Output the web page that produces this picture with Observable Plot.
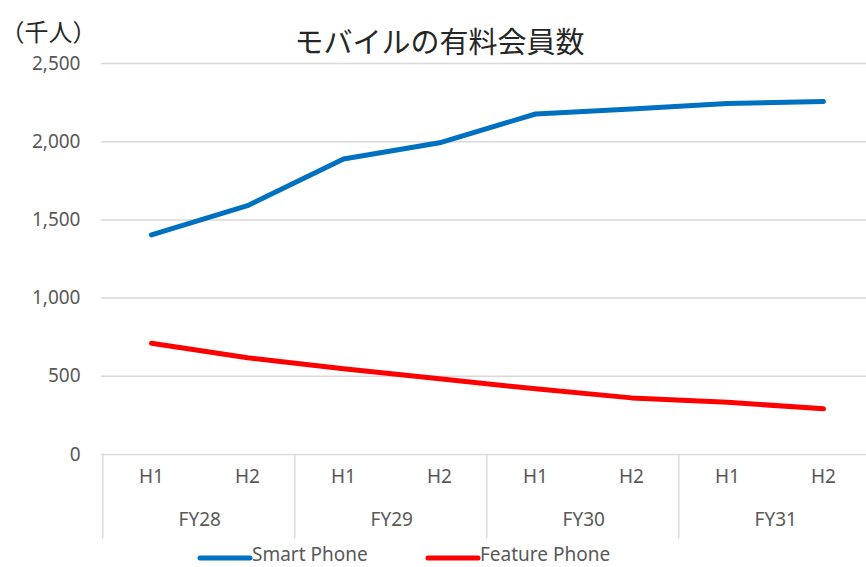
<!DOCTYPE html>
<html><head><meta charset="utf-8">
<script src="https://cdn.jsdelivr.net/npm/d3@7"></script>
<script src="https://cdn.jsdelivr.net/npm/@observablehq/plot@0.6"></script>
<style>html,body{margin:0;padding:0;overflow:hidden;background:#fff}svg{display:block}</style>
</head><body><div id="chart"></div>
<script>
const fiscalYears = ["FY28", "FY29", "FY30", "FY31"];
const halves = ["H1", "H2"];
const seriesNames = ["Smart Phone", "Feature Phone"];
const seriesColors = ["#0070c0", "#ff0000"];
const smartPhone = [1404, 1591, 1889, 1993, 2177, 2209, 2244, 2257];
const featurePhone = [711, 618, 548, 484, 420, 362, 334, 292];
const yTicks = [0, 500, 1000, 1500, 2000, 2500];
const titleText = "モバイルの有料会員数";
const unitText = "（千人）";

const categories = fiscalYears.flatMap(fy => halves.map(h => fy + "|" + h));
const rows = [
  ...categories.map((c, i) => ({cat: c, series: seriesNames[0], value: smartPhone[i]})),
  ...categories.map((c, i) => ({cat: c, series: seriesNames[1], value: featurePhone[i]}))
];

const W = 866, H = 567, mL = 101, mR = -7, mT = 63, mB = 113;
const step = (W - mL - mR) / categories.length;
const gridColor = "#d9d9d9";
const labelColor = "#595959";
const labelSize = 19;
const font = "'Noto Sans', 'Noto Sans CJK JP', sans-serif";

function separators(index, scales) {
  const x = scales.x, y0 = scales.y(0);
  const g = d3.create("svg:g").attr("stroke", gridColor).attr("stroke-width", 1.5);
  const xs = fiscalYears.map(fy => x(fy + "|H1") - step / 2);
  xs.forEach(px => g.append("line").attr("x1", px).attr("x2", px).attr("y1", y0).attr("y2", y0 + 84));
  return g.node();
}

function legend(index, scales) {
  const g = d3.create("svg:g").attr("font-family", font).attr("font-size", labelSize)
    .attr("fill", labelColor).attr("text-anchor", "start");
  const lx = [200, 428];
  seriesNames.forEach((s, i) => {
    g.append("line").attr("x1", lx[i]).attr("x2", lx[i] + 50).attr("y1", 558).attr("y2", 558)
      .attr("stroke", scales.color(s)).attr("stroke-width", 5).attr("stroke-linecap", "round");
    g.append("text").attr("x", lx[i] + 52).attr("y", 555).attr("dy", "0.32em").text(s);
  });
  return g.node();
}

const chart = Plot.plot({
  width: W, height: H,
  marginLeft: mL, marginRight: mR, marginTop: mT, marginBottom: mB,
  style: {fontFamily: font, background: "#fff"},
  x: {type: "point", domain: categories, range: [mL, W - mR], padding: 0.5, axis: null},
  y: {domain: [0, 2500], axis: null},
  color: {domain: seriesNames, range: seriesColors},
  marks: [
    Plot.ruleY(yTicks, {stroke: gridColor, strokeWidth: 1.5}),
    separators,
    Plot.text(yTicks, {y: d => d, text: d => d3.format(",")(d), frameAnchor: "left", textAnchor: "end", dx: -21, fontSize: labelSize, fill: labelColor}),
    Plot.text(categories, {x: d => d, text: d => d.split("|")[1], frameAnchor: "bottom", dy: 28, fontSize: labelSize, fill: labelColor}),
    Plot.text(fiscalYears, {x: d => d + "|H1", text: d => d, dx: step / 2, frameAnchor: "bottom", dy: 71, fontSize: labelSize, fill: labelColor}),
    Plot.line(rows, {x: "cat", y: "value", z: "series", stroke: "series", strokeWidth: 5, strokeLinecap: "round", strokeLinejoin: "round"}),
    Plot.text([titleText], {frameAnchor: "top-left", textAnchor: "start", dx: 193, dy: -31, fontSize: 29, fill: "#262626", fontFamily: "'Noto Sans CJK JP', sans-serif"}),
    Plot.text([unitText], {frameAnchor: "top-left", textAnchor: "start", dx: -101, dy: -40, fontSize: 24, fill: "#262626", fontFamily: "'Noto Sans CJK JP', sans-serif"}),
    legend
  ]
});
document.getElementById("chart").appendChild(chart);
</script>
</body></html>
